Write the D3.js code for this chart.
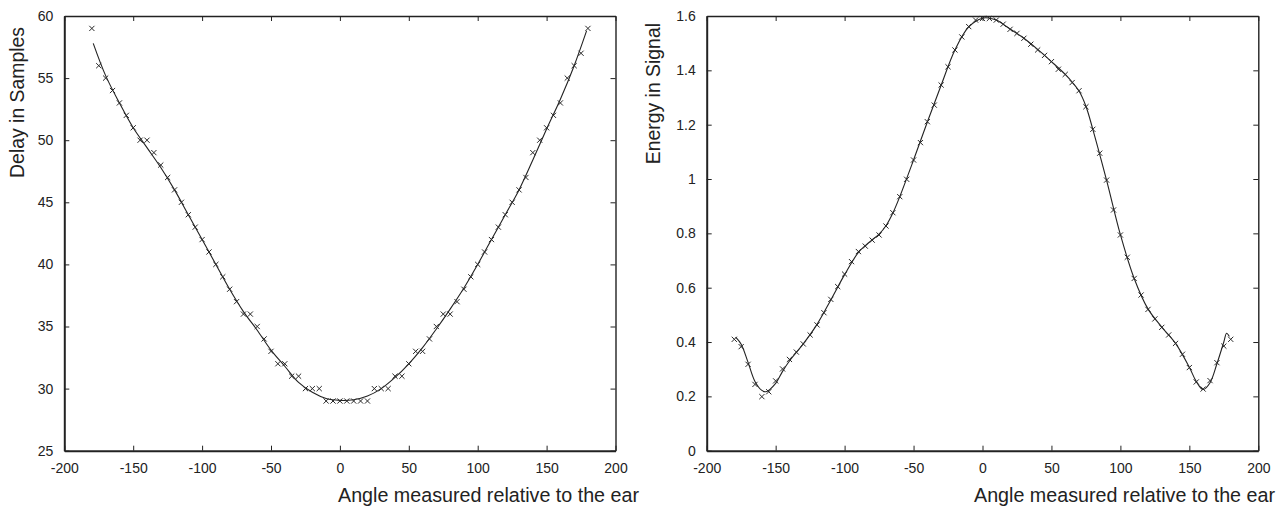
<!DOCTYPE html>
<html>
<head>
<meta charset="utf-8">
<script src="https://cdn.jsdelivr.net/npm/d3@7"></script>
<style>
  body { margin: 0; background: #fff; }
  svg { display: block; font-family: "Liberation Sans", Arial, sans-serif; }
</style>
</head>
<body>
<script>
// measured angles, every 5 degrees
var angles = [-180, -175, -170, -165, -160, -155, -150, -145, -140, -135,
              -130, -125, -120, -115, -110, -105, -100, -95, -90, -85,
              -80, -75, -70, -65, -60, -55, -50, -45, -40, -35,
              -30, -25, -20, -15, -10, -5, 0, 5, 10, 15,
              20, 25, 30, 35, 40, 45, 50, 55, 60, 65,
              70, 75, 80, 85, 90, 95, 100, 105, 110, 115,
              120, 125, 130, 135, 140, 145, 150, 155, 160, 165,
              170, 175, 180];

var delayMarks = [59, 56, 55, 54, 53, 52, 51, 50, 50, 49,
                  48, 47, 46, 45, 44, 43, 42, 41, 40, 39,
                  38, 37, 36, 36, 35, 34, 33, 32, 32, 31,
                  31, 30, 30, 30, 29, 29, 29, 29, 29, 29,
                  29, 30, 30, 30, 31, 31, 32, 33, 33, 34,
                  35, 36, 36, 37, 38, 39, 40, 41, 42, 43,
                  44, 45, 46, 47, 49, 50, 51, 52, 53, 55,
                  56, 57, 59];

var energyMarks = [0.410, 0.383, 0.318, 0.244, 0.199, 0.217, 0.257, 0.301, 0.336, 0.363,
                   0.393, 0.426, 0.463, 0.508, 0.557, 0.604, 0.650, 0.696, 0.733, 0.753,
                   0.775, 0.794, 0.827, 0.876, 0.935, 0.999, 1.070, 1.134, 1.211, 1.272,
                   1.346, 1.413, 1.475, 1.523, 1.561, 1.585, 1.591, 1.591, 1.585, 1.570,
                   1.551, 1.536, 1.518, 1.496, 1.475, 1.455, 1.432, 1.404, 1.385, 1.355,
                   1.325, 1.266, 1.183, 1.095, 0.996, 0.886, 0.794, 0.712, 0.634, 0.573,
                   0.520, 0.485, 0.454, 0.426, 0.395, 0.355, 0.306, 0.253, 0.227, 0.258,
                   0.324, 0.385, 0.410];

// fitted curves
var delayFitAngles = [-179, -170, -160, -150, -140, -130, -120, -110, -100, -90,
                      -80, -70, -60, -50, -40, -30, -20, -10, 0, 10,
                      20, 30, 40, 50, 60, 70, 80, 90, 100, 110,
                      120, 130, 140, 150, 160, 170, 179];
var delayFit = [57.8, 55.2, 53.0, 51.0, 49.4, 47.8, 46.0, 44.0, 42.0, 40.0,
                38.0, 36.2, 34.7, 33.1, 31.8, 30.5, 29.7, 29.2, 29.05, 29.1,
                29.4, 30.0, 30.9, 32.0, 33.3, 34.8, 36.4, 38.1, 40.0, 42.0,
                44.0, 46.0, 48.4, 50.9, 53.3, 56.0, 58.8];

var energyFitAngles = [-179, -175, -170, -165, -160, -157, -150, -145, -140, -130,
                       -120, -110, -100, -90, -85, -80, -75, -70, -65, -60,
                       -50, -40, -30, -20, -10, 0, 5, 10, 20, 30,
                       40, 50, 60, 65, 70, 75, 80, 90, 100, 110,
                       120, 130, 140, 150, 155, 160, 165, 170, 175, 177,
                       179];
var energyFit = [0.418, 0.392, 0.325, 0.255, 0.222, 0.217, 0.248, 0.292, 0.330, 0.393,
                 0.465, 0.555, 0.648, 0.730, 0.755, 0.776, 0.797, 0.828, 0.875, 0.935,
                 1.070, 1.210, 1.345, 1.475, 1.560, 1.592, 1.592, 1.585, 1.552, 1.518,
                 1.477, 1.432, 1.385, 1.357, 1.324, 1.268, 1.183, 0.995, 0.795, 0.634,
                 0.522, 0.455, 0.395, 0.307, 0.255, 0.225, 0.250, 0.320, 0.400, 0.432,
                 0.420];

var xTicks = [-200, -150, -100, -50, 0, 50, 100, 150, 200];
var delayTicks = [25, 30, 35, 40, 45, 50, 55, 60];
var energyTicks = [0, 0.2, 0.4, 0.6, 0.8, 1, 1.2, 1.4, 1.6];

var xTitle = "Angle measured relative to the ear";

var svg = d3.select("body").append("svg")
    .attr("width", 1285)
    .attr("height", 510);

var ink = "#222";

// plain hyphen for negatives, like the original
function plain(d) { return String(d); }

function drawPanel(p)
{
  var x = d3.scaleLinear().domain([-200, 200]).range([p.left, p.right]);
  var y = d3.scaleLinear().domain(p.yDomain).range([p.bottom, p.top]);

  var g = svg.append("g");

  // frame axes, ticks pointing inward
  g.append("g")
   .attr("transform", "translate(0," + p.bottom + ")")
   .call(d3.axisBottom(x).tickValues(xTicks).tickSizeInner(-5).tickSizeOuter(0).tickPadding(12)
         .tickFormat(plain))
   .call(styleAxis, 2);
  g.append("g")
   .attr("transform", "translate(0," + p.top + ")")
   .call(d3.axisTop(x).tickValues(xTicks).tickSizeInner(-5).tickSizeOuter(0).tickFormat(""))
   .call(styleAxis, 1.4);
  g.append("g")
   .attr("transform", "translate(" + p.left + ",0)")
   .call(d3.axisLeft(y).tickValues(p.yTicks).tickSizeInner(-5).tickSizeOuter(0).tickPadding(11)
         .tickFormat(plain))
   .call(styleAxis, 2);
  g.append("g")
   .attr("transform", "translate(" + p.right + ",0)")
   .call(d3.axisRight(y).tickValues(p.yTicks).tickSizeInner(-5).tickSizeOuter(0).tickFormat(""))
   .call(styleAxis, 1.4);

  // fitted line
  var line = d3.line()
      .x(function(d){ return x(d[0]); })
      .y(function(d){ return y(d[1]); })
      .curve(d3.curveCatmullRom.alpha(0.5));

  g.append("path")
   .datum(d3.zip(p.fitX, p.fitY))
   .attr("d", line)
   .attr("fill", "none")
   .attr("stroke", ink)
   .attr("stroke-width", 1.1);

  // x markers
  g.selectAll(".mark")
   .data(d3.zip(angles, p.marks))
   .enter()
   .append("path")
   .attr("class", "mark")
   .attr("transform", function(d){ return "translate(" + x(d[0]) + "," + y(d[1]) + ")"; })
   .attr("d", "M-2.6,-2.6L2.6,2.6M-2.6,2.6L2.6,-2.6")
   .attr("stroke", "#2a2a2a")
   .attr("stroke-width", 1)
   .attr("fill", "none");

  // titles
  g.append("text")
   .attr("x", p.xTitleEnd)
   .attr("y", 502)
   .attr("text-anchor", "end")
   .attr("font-size", "19.7px")
   .attr("fill", ink)
   .text(xTitle);

  g.append("text")
   .attr("transform", "translate(" + p.yTitleX + "," + p.yTitleEnd + ") rotate(-90)")
   .attr("text-anchor", "end")
   .attr("font-size", "19.4px")
   .attr("fill", ink)
   .text(p.yTitle);
}

function styleAxis(sel, w)
{
  sel.select(".domain").attr("stroke", ink).attr("stroke-width", w);
  sel.selectAll(".tick line").attr("stroke", ink).attr("stroke-width", 1);
  sel.selectAll(".tick text")
     .attr("font-size", "14px")
     .attr("font-family", "Liberation Sans, Arial, sans-serif")
     .attr("fill", "#222");
}

drawPanel({
  left: 64.3, right: 615.5, top: 16, bottom: 450.7,
  yDomain: [25, 60], yTicks: delayTicks,
  marks: delayMarks, fitX: delayFitAngles, fitY: delayFit,
  yTitle: "Delay in Samples", yTitleX: 24, yTitleEnd: 27,
  xTitleEnd: 639
});

drawPanel({
  left: 706.7, right: 1258.3, top: 16, bottom: 450.7,
  yDomain: [0, 1.6], yTicks: energyTicks,
  marks: energyMarks, fitX: energyFitAngles, fitY: energyFit,
  yTitle: "Energy in Signal", yTitleX: 660, yTitleEnd: 23,
  xTitleEnd: 1275
});
</script>
</body>
</html>
